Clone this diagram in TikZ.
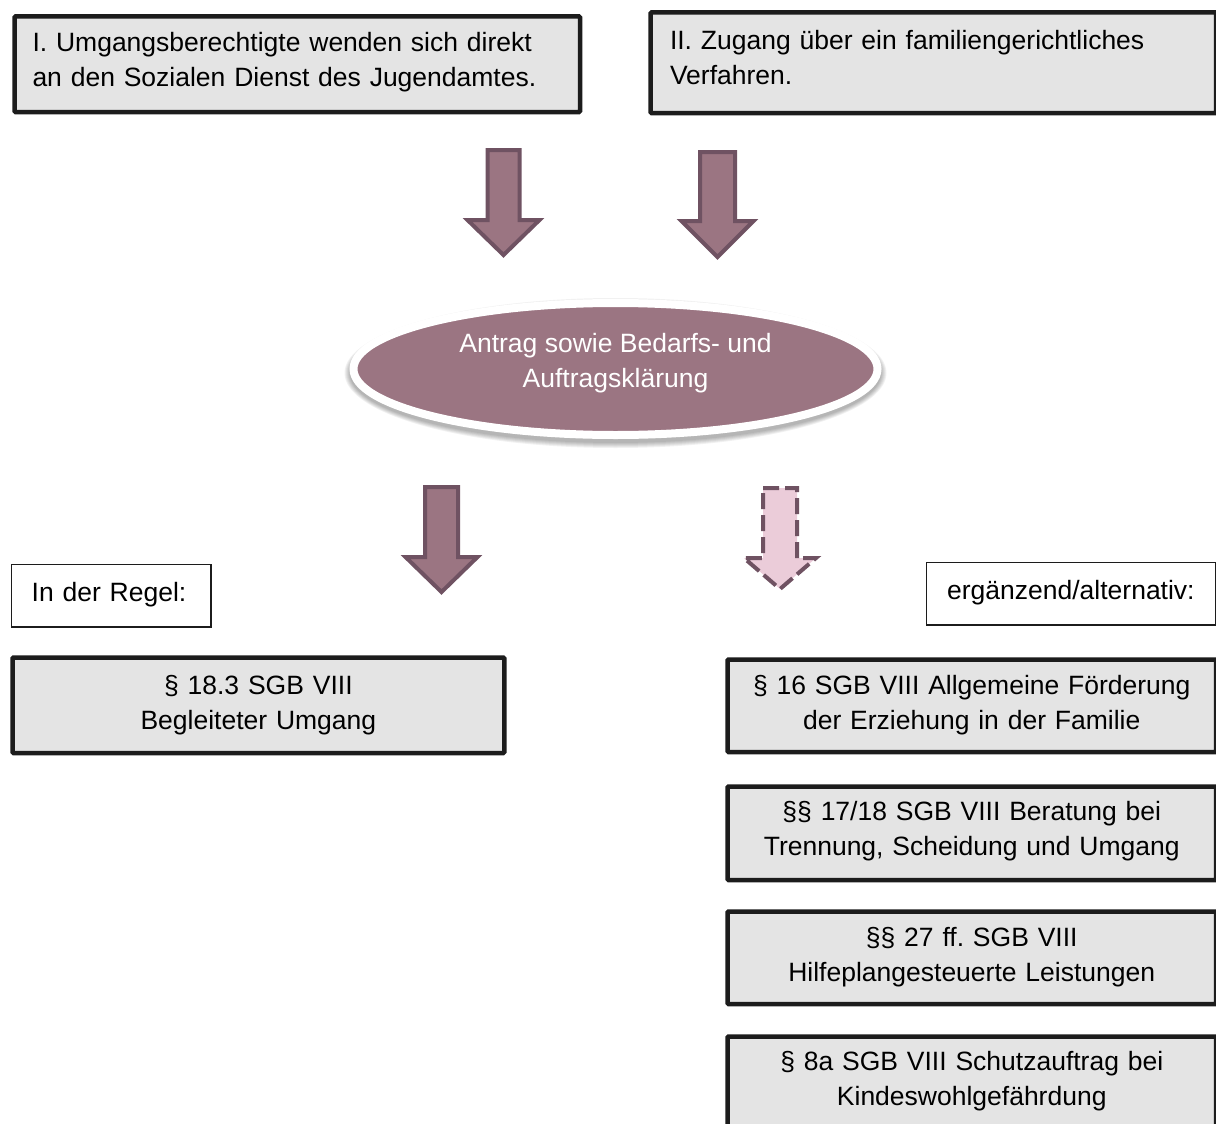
\documentclass[tikz,border=0pt]{standalone}
\usepackage{fontspec}
\setmainfont{Liberation Sans}
\usetikzlibrary{shapes.geometric}
\frenchspacing
\definecolor{boxfill}{HTML}{E4E4E4}
\definecolor{boxline}{HTML}{1C1C1C}
\definecolor{mauve}{HTML}{9B7582}
\definecolor{mauveline}{HTML}{6F5262}
\definecolor{lightpink}{HTML}{EBCCD9}
\newcommand{\txtsize}{\fontsize{26.5}{35}\selectfont\frenchspacing}
\newcommand{\blockarrow}[7]{%
  \draw[#1] ({#2-#4},#3) -- ({#2+#4},#3) -- ({#2+#4},#6) -- ({#2+#5},#6)
    -- (#2,#7) -- ({#2-#5},#6) -- ({#2-#4},#6) -- cycle;}
\tikzset{
  graybox/.style={draw=boxline, fill=boxfill, line width=4.5pt, rounded corners=1pt,
    anchor=north west, font=\txtsize, inner ysep=0pt, text height=20pt, text depth=40pt},
  thinbox/.style={draw=boxline, fill=white, line width=1.3pt, anchor=north west,
    font=\txtsize, align=left, inner ysep=0pt, text height=19.5pt, text depth=7.5pt},
  bigarrow/.style={draw=mauveline, fill=mauve, line width=4pt, line join=miter},
  altarrow/.style={draw=mauveline, fill=lightpink, line width=4pt, dash pattern=on 16pt off 6pt},
  shadowlayer/.style={fill=black, fill opacity=0.055, draw=none},
}
\begin{document}
\begin{tikzpicture}[x=1pt,y=-1pt]
\useasboundingbox (0,0) rectangle (1216,1124);
\clip (0,0) rectangle (1216,1124);

% top boxes
\node[graybox, minimum width=565.5pt, minimum height=95.5pt, inner xsep=18pt,
  text width=529.5pt, align=left, text height=17pt, text depth=43pt] (b1) at (12.25,14.25)
  {I. Umgangsberechtigte wenden sich direkt\\an den Sozialen Dienst des Jugendamtes.};
\node[graybox, minimum width=565.5pt, minimum height=100.5pt, inner xsep=19.5pt,
  text width=526.5pt, align=left, text height=17pt, text depth=43pt] (b2) at (648.25,10.25)
  {II. Zugang über ein familiengerichtliches\\Verfahren.};

% arrows top
\blockarrow{bigarrow}{503.5}{150}{16}{36}{220}{255}
\blockarrow{bigarrow}{717.5}{152}{17.5}{36}{221}{257}

% ellipse shadow (soft)
\foreach \i in {1,...,6}{
  \fill[shadowlayer] (615.5,373) ellipse [x radius={265+\i}, y radius={69+\i}];
}
% ellipse
\node[ellipse, draw=white, line width=8pt, fill=mauve, minimum width=524pt, minimum height=132pt,
  text=white, font=\txtsize, align=center, inner sep=0pt, text height=48.5pt, text depth=11.5pt]
  (ell) at (615.5,369) {Antrag sowie Bedarfs- und\\Auftragsklärung};

% arrows bottom
\blockarrow{bigarrow}{441.5}{487}{16.5}{36}{557}{592}
\blockarrow{altarrow}{780}{488}{17}{36}{558}{589}

% label boxes
\node[thinbox, minimum width=199.7pt, minimum height=62.7pt, inner xsep=20pt,
  text width=159pt] (regel) at (10.65,563.65) {In der Regel:};
\node[thinbox, minimum width=289.7pt, minimum height=62.7pt, inner xsep=20.5pt,
  text width=248pt] (alt) at (925.65,561.65) {ergänzend/alternativ:};

% left result
\node[graybox, minimum width=491.75pt, minimum height=95.5pt, inner xsep=10pt,
  text width=471.75pt, align=center, text height=19pt, text depth=41pt] (p18) at (10.25,655.25)
  {§ 18.3 SGB VIII\\Begleiteter Umgang};

% right results
\node[graybox, minimum width=488.5pt, minimum height=92.5pt, inner xsep=10pt,
  text width=468.5pt, align=center, text height=18.5pt, text depth=41.5pt] (p16) at (725.25,657.25)
  {§ 16 SGB VIII Allgemeine Förderung\\der Erziehung in der Familie};
\node[graybox, minimum width=488.5pt, minimum height=93.5pt, inner xsep=10pt,
  text width=468.5pt, align=center, text height=17pt, text depth=43pt] (p17) at (725.25,784.25)
  {§§ 17/18 SGB VIII Beratung bei\\Trennung, Scheidung und Umgang};
\node[graybox, minimum width=488.5pt, minimum height=92.5pt, inner xsep=10pt,
  text width=468.5pt, align=center, text height=18.5pt, text depth=41.5pt] (p27) at (725.25,909.25)
  {§§ 27 ff. SGB VIII\\Hilfeplangesteuerte Leistungen};
\node[graybox, minimum width=488.5pt, minimum height=90.5pt, inner xsep=10pt,
  text width=468.5pt, align=center, text height=18.5pt, text depth=41.5pt] (p8a) at (725.25,1034.25)
  {§ 8a SGB VIII Schutzauftrag bei\\Kindeswohlgefährdung};
\end{tikzpicture}
\end{document}
